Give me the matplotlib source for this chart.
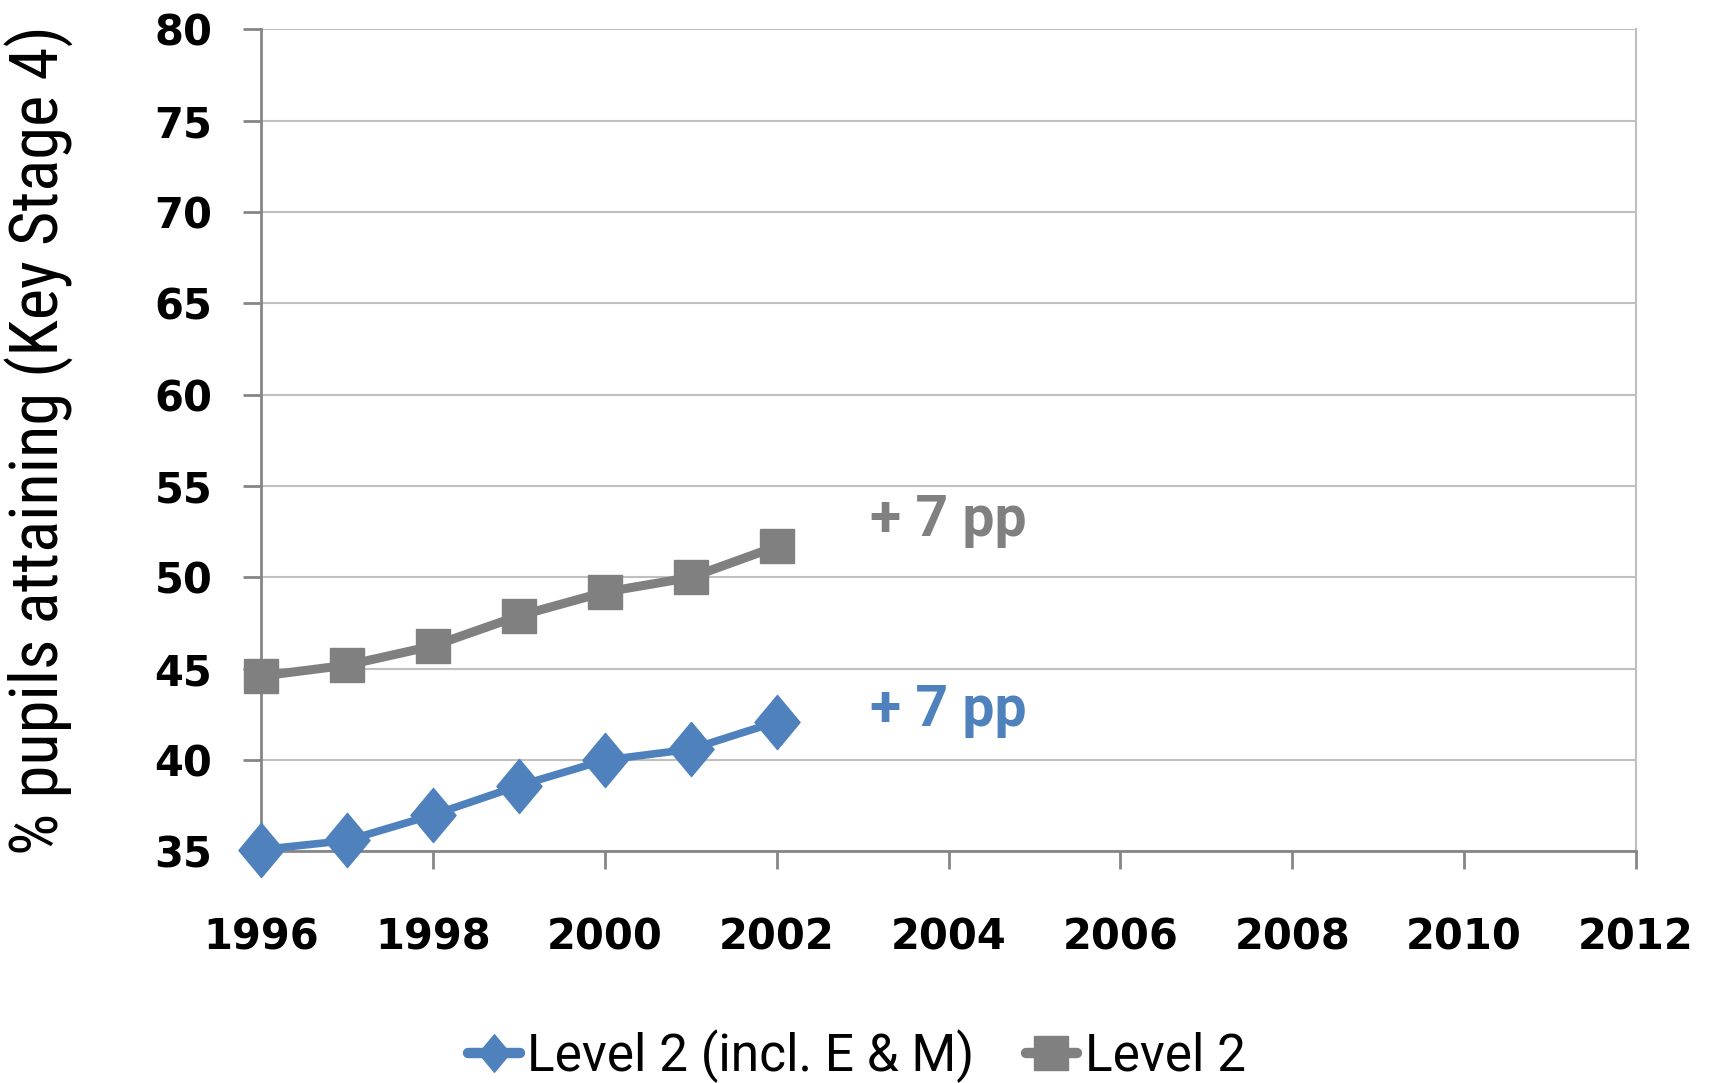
import matplotlib
matplotlib.use('Agg')
import matplotlib.pyplot as plt
from matplotlib import font_manager
from matplotlib.path import Path

years = [1996, 1997, 1998, 1999, 2000, 2001, 2002]
level2_em = [35.1, 35.6, 37.0, 38.6, 40.0, 40.6, 42.1]
level2 = [44.6, 45.2, 46.25, 47.9, 49.2, 50.0, 51.7]
series_names = ['Level 2 (incl. E & M)', 'Level 2']
gain_labels = ['+ 7 pp', '+ 7 pp']
gain_pos = [(2004.0, 42.7), (2004.0, 53.1)]

blue = '#4F81BD'
grey = '#808080'

# narrow face for the axis title if there is one
installed = {f.name for f in font_manager.fontManager.ttflist}
narrow_font = next((f for f in ['Liberation Sans Narrow', 'Roboto Condensed', 'Roboto']
                    if f in installed), 'DejaVu Sans')
text_font = 'Roboto' if 'Roboto' in installed else 'DejaVu Sans'

# slightly tall diamond
tall_diamond = Path([(0, -1.2), (1, 0), (0, 1.2), (-1, 0), (0, -1.2)],
                    [Path.MOVETO, Path.LINETO, Path.LINETO, Path.LINETO, Path.CLOSEPOLY])

fig = plt.figure(figsize=(17.14, 10.83), dpi=100)
ax = fig.add_axes((0.1523, 0.2138, 0.8022, 0.759))

ax.plot(years, level2_em, color=blue, lw=5.5, marker=tall_diamond, ms=39,
        solid_capstyle='round', label=series_names[0], zorder=3, clip_on=False)
ax.plot(years, level2, color=grey, lw=6.5, marker='s', ms=25,
        solid_capstyle='round', label=series_names[1], zorder=3, clip_on=False)

for (x, y), txt, c in zip(gain_pos, gain_labels, [blue, grey]):
    ax.text(x, y, txt, color=c, fontsize=41, fontweight='bold',
            family=text_font, ha='center', va='center')

ax.set_xlim(1996, 2012)
ax.set_ylim(35, 80)
ax.set_xticks(range(1996, 2013, 2))
ax.set_yticks(range(35, 81, 5))
ax.grid(axis='y', color='#C0C0C0', lw=1.5)
ax.set_axisbelow(True)

ax.spines['top'].set_visible(False)
ax.spines['right'].set_color('#C0C0C0')
ax.spines['right'].set_linewidth(1.5)
for side in ['left', 'bottom']:
    ax.spines[side].set_color('#868686')
    ax.spines[side].set_linewidth(2)

ax.tick_params(axis='both', length=13, width=2, color='#868686')
ax.tick_params(axis='y', pad=22)
ax.tick_params(axis='x', pad=34)
for lbl in ax.get_xticklabels() + ax.get_yticklabels():
    lbl.set_fontsize(30)
    lbl.set_fontweight('bold')
    lbl.set_family('DejaVu Sans')

ax.set_ylabel('% pupils attaining (Key Stage 4)', fontsize=48, family=narrow_font)
ax.yaxis.set_label_coords(-0.136, 0.5)

leg = fig.legend(loc='center', bbox_to_anchor=(0.5, 0.025), ncol=2, frameon=False,
                 prop={'family': text_font, 'size': 37}, handlelength=1.0,
                 handletextpad=0.15, columnspacing=1.0)
for handle, ms in zip(leg.legend_handles, [27, 25]):
    handle.set_markersize(ms)
    handle.set_linewidth(7.5)

fig.savefig('out.png', dpi=100)
